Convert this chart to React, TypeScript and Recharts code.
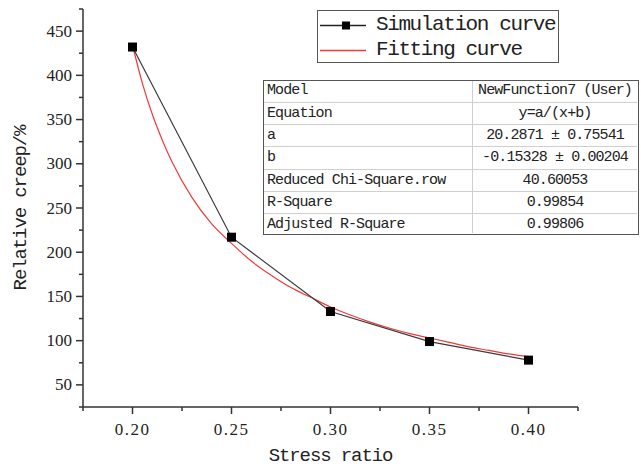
import React from 'react';
import { LineChart, Line, XAxis, YAxis } from 'recharts';

const stressRatio = [0.2, 0.25, 0.3, 0.35, 0.4];
const relativeCreep = [432, 217, 133, 99, 78];

const fitStress = [0.2, 0.205, 0.21, 0.215, 0.22, 0.23, 0.24, 0.25, 0.26, 0.27, 0.28, 0.29, 0.3, 0.31, 0.32, 0.33, 0.34, 0.35, 0.36, 0.37, 0.38, 0.39, 0.4];
const fitCreep = [434, 391, 356, 327, 302, 262, 232, 210, 190, 174, 160, 149, 138, 129, 121, 114, 108, 103, 98, 93, 89, 85, 82];

const xTicks = [0.175, 0.2, 0.225, 0.25, 0.275, 0.3, 0.325, 0.35, 0.375, 0.4, 0.425];
const xMajorTicks = [0.2, 0.25, 0.3, 0.35, 0.4];
const yTicks = [25, 50, 75, 100, 125, 150, 175, 200, 225, 250, 275, 300, 325, 350, 375, 400, 425, 450, 475];
const yMajorTicks = [50, 100, 150, 200, 250, 300, 350, 400, 450];

const legendLabels = ['Simulation curve', 'Fitting curve'];
const tableLabels = ['Model', 'Equation', 'a', 'b', 'Reduced Chi-Square.row', 'R-Square', 'Adjusted R-Square'];
const tableValues = ['NewFunction7 (User)', 'y=a/(x+b)', '20.2871 \u00b1 0.75541', '-0.15328 \u00b1 0.00204', '40.60053', '0.99854', '0.99806'];

const simData = stressRatio.map((x, i) => ({ x, y: relativeCreep[i] }));
const fitData = fitStress.map((x, i) => ({ x, y: fitCreep[i] }));

const AXIS = '#333';
const TEXT = '#222';
const RED = '#f03a3a';
const MONO = '"Liberation Mono", "DejaVu Sans Mono", monospace';
const SERIF = '"Liberation Serif", "DejaVu Serif", serif';

const isIn = (arr: number[], v: number) => arr.some((m) => Math.abs(m - v) < 1e-6);

const XTick = (props: any) => {
  const { x, y, payload } = props;
  const v = payload.value;
  const major = isIn(xMajorTicks, v);
  return (
    <g>
      <line x1={x} x2={x} y1={y} y2={y + (major ? 7 : 4)} stroke={AXIS} strokeWidth={1.5} />
      {major && (
        <text x={x} y={y + 22} textAnchor="middle" dominantBaseline="central" fontFamily={SERIF} fontSize={17} letterSpacing={1.5} fill={TEXT}>
          {v.toFixed(2)}
        </text>
      )}
    </g>
  );
};

const YTick = (props: any) => {
  const { x, y, payload } = props;
  const v = payload.value;
  const major = isIn(yMajorTicks, v);
  return (
    <g>
      <line x1={x} x2={x - (major ? 7 : 4)} y1={y} y2={y} stroke={AXIS} strokeWidth={1.5} />
      {major && (
        <text x={x - 11} y={y} textAnchor="end" dominantBaseline="central" fontFamily={SERIF} fontSize={17} fill={TEXT}>
          {String(v)}
        </text>
      )}
    </g>
  );
};

const YLabel = (props: any) => {
  const vb = props.viewBox || {};
  const cx = 21;
  const cy = (vb.y ?? 9) + (vb.height ?? 398) / 2;
  return (
    <text x={cx} y={cy} transform={`rotate(-90 ${cx} ${cy})`} textAnchor="middle" dominantBaseline="central" fontFamily={MONO} fontSize={19} letterSpacing={-1.1} fill={TEXT}>
      Relative creep/%
    </text>
  );
};

const XLabel = (props: any) => {
  const vb = props.viewBox || {};
  const cx = (vb.x ?? 83) + (vb.width ?? 495) / 2;
  const cy = (vb.y ?? 407) + 49;
  return (
    <text x={cx} y={cy} textAnchor="middle" dominantBaseline="central" fontFamily={MONO} fontSize={19} letterSpacing={-1.1} fill={TEXT}>
      Stress ratio
    </text>
  );
};

const SquareDot = (p: any) => (
  <rect key={`sq-${p.index}`} x={p.cx - 4.5} y={p.cy - 4.5} width={9} height={9} fill="#000" />
);

export default function App() {
  const rowH = 155 / tableLabels.length;
  return (
    <div style={{ position: 'absolute', left: 0, top: 0, width: 641, height: 468, background: '#fff' }}>
      <LineChart width={641} height={468} margin={{ top: 9, right: 63, bottom: 0, left: 0 }}>
        <XAxis
          dataKey="x"
          type="number"
          domain={[0.175, 0.425]}
          ticks={xTicks}
          interval={0}
          allowDataOverflow
          height={61}
          tickSize={0}
          tickMargin={0}
          tickLine={false}
          tick={<XTick />}
          axisLine={{ stroke: AXIS, strokeWidth: 1.5 }}
          label={<XLabel />}
        />
        <YAxis
          dataKey="y"
          type="number"
          domain={[25, 475]}
          ticks={yTicks}
          interval={0}
          allowDataOverflow
          width={83}
          tickSize={0}
          tickMargin={0}
          tickLine={false}
          tick={<YTick />}
          axisLine={{ stroke: AXIS, strokeWidth: 1.5 }}
          label={<YLabel />}
        />
        <Line data={fitData} dataKey="y" type="monotone" stroke={RED} strokeWidth={1.2} dot={false} isAnimationActive={false} />
        <Line data={simData} dataKey="y" type="linear" stroke="#3a3a3a" strokeWidth={1.2} dot={SquareDot} activeDot={false} isAnimationActive={false} />
      </LineChart>

      <div style={{ position: 'absolute', left: 317, top: 10, width: 242, height: 53, boxSizing: 'border-box', border: '1.5px solid #555', background: '#fff' }}>
        {legendLabels.map((lab, i) => (
          <div key={lab} style={{ position: 'absolute', left: 0, top: i === 0 ? 2 : 27, height: 24, width: 240 }}>
            <svg width={50} height={24} style={{ position: 'absolute', left: 2, top: 0 }}>
              <line x1={0} x2={46} y1={12.5} y2={12.5} stroke={i === 0 ? '#222' : RED} strokeWidth={1.3} />
              {i === 0 && <rect x={22} y={8.5} width={8} height={8} fill="#000" />}
            </svg>
            <span style={{ position: 'absolute', left: 58, top: 0, lineHeight: '24px', fontFamily: MONO, fontSize: 21, letterSpacing: -1.4, color: TEXT, whiteSpace: 'nowrap' }}>{lab}</span>
          </div>
        ))}
      </div>

      <div style={{ position: 'absolute', left: 263, top: 80, width: 376, height: 155, boxSizing: 'border-box', border: '1.5px solid #555', background: '#fff' }}>
        {tableLabels.map((lab, i) => (
          <div
            key={lab}
            style={{
              position: 'absolute',
              left: 0,
              top: i * rowH - 1,
              width: 373,
              height: rowH,
              borderTop: i === 0 ? 'none' : '1px solid #cfcfcf',
              boxSizing: 'border-box',
              fontFamily: MONO,
              fontSize: 15,
              letterSpacing: -0.9,
              color: TEXT,
            }}
          >
            <span style={{ position: 'absolute', left: 3, top: 0, lineHeight: `${rowH}px`, whiteSpace: 'nowrap' }}>{lab}</span>
            <span style={{ position: 'absolute', left: 209, width: 164, top: 0, lineHeight: `${rowH}px`, textAlign: 'center', whiteSpace: 'nowrap' }}>{tableValues[i]}</span>
          </div>
        ))}
        <div style={{ position: 'absolute', left: 208, top: 0, width: 1, height: 152, background: '#cfcfcf' }} />
      </div>
    </div>
  );
}
